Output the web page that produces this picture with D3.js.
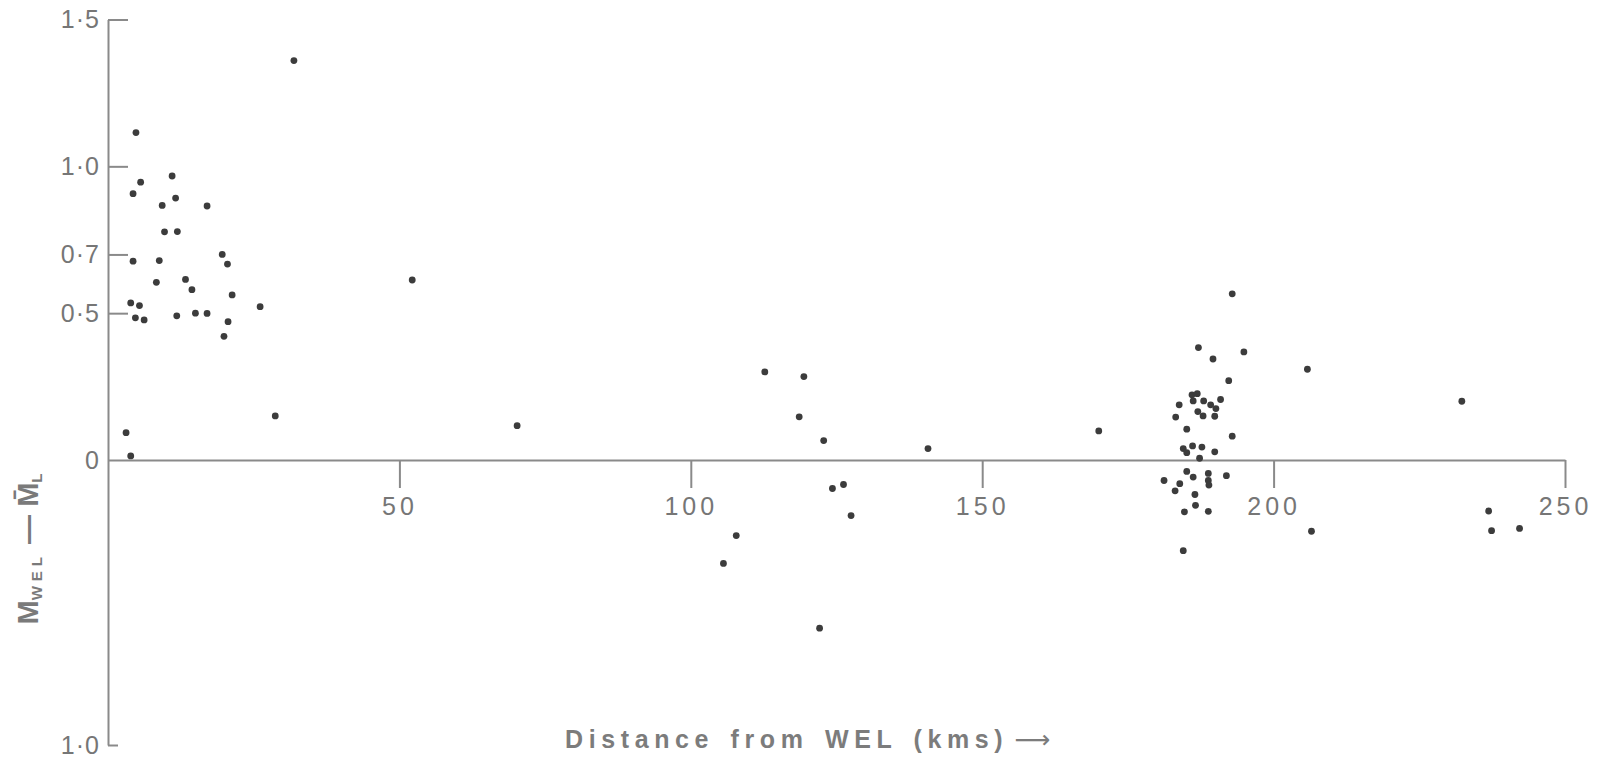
<!DOCTYPE html>
<html>
<head>
<meta charset="utf-8">
<script src="https://cdn.jsdelivr.net/npm/d3@7/dist/d3.min.js"></script>
<style>
	body { margin: 0; background: #fff; }
	svg { display: block; }
	.axis path, .axis line { stroke: #8a8a8a; stroke-width: 2; }
	.axis text { fill: #767676; font-family: "Liberation Sans", Arial, sans-serif; font-size: 25px; }
</style>
</head>
<body>
<svg id="chart" width="1614" height="769"></svg>
<script>
(function(d3) {
	'use strict';

	// distance from WEL (km) and M_WEL - mean M_L
	var distanceKm = [
		31.9, 4.8, 5.6, 4.3, 11.0, 11.6, 9.3, 17.0, 9.7, 11.9, 4.3, 8.8, 19.6, 20.5, 8.3, 13.3,
		14.4, 21.3, 3.9, 5.4, 4.7, 6.2, 11.8, 15.0, 17.0, 20.6, 26.1, 19.9, 52.2, 28.7, 3.1, 3.9,
		70.2, 112.7, 119.4, 118.6, 122.8, 140.7, 124.3, 126.2, 127.5, 107.8, 105.6, 122.1,
		192.9, 205.8, 232.3, 170.0, 206.5, 236.9, 237.4, 242.2,
		187.1, 189.6, 194.9, 192.3, 186.0, 186.9, 188.0, 189.2, 190.9, 183.8, 183.2, 187.0,
		187.9, 189.9, 190.1, 186.2, 185.1, 192.9, 184.5, 186.1, 187.7, 187.3, 189.9, 185.1,
		185.1, 186.2, 188.8, 188.8, 188.9, 191.9, 181.2, 183.9, 183.1, 186.5, 184.7, 186.6,
		188.8, 184.5
	];
	var deviation = [
		1.36, 1.115, 0.946, 0.907, 0.967, 0.892, 0.867, 0.865, 0.777, 0.778, 0.677, 0.679, 0.70, 0.667, 0.605, 0.615,
		0.58, 0.562, 0.535, 0.526, 0.484, 0.477, 0.491, 0.50, 0.499, 0.471, 0.522, 0.421, 0.613, 0.150, 0.093, 0.014,
		0.117, 0.30, 0.284, 0.147, 0.066, 0.039, -0.10, -0.086, -0.195, -0.265, -0.363, -0.59,
		0.566, 0.309, 0.200, 0.099, -0.250, -0.179, -0.248, -0.240,
		0.383, 0.344, 0.368, 0.270, 0.222, 0.226, 0.201, 0.188, 0.206, 0.188, 0.146, 0.165,
		0.150, 0.149, 0.175, 0.201, 0.105, 0.081, 0.039, 0.048, 0.044, 0.006, 0.028, 0.025,
		-0.040, -0.060, -0.047, -0.072, -0.088, -0.055, -0.072, -0.083, -0.108, -0.121, -0.182, -0.159,
		-0.180, -0.318
	];

	var xTicks = [50, 100, 150, 200, 250];
	var yTicks = [1.5, 1.0, 0.7, 0.5, 0, -1.0];
	var yTickLabels = ['1·5', '1·0', '0·7', '0·5', '0', '1·0'];

	var svg = d3.select('#chart');

	var x = d3.scaleLinear().domain([0, 250]).range([108, 1565]);
	// the printed axis is slightly squeezed below zero
	var y = d3.scaleLinear().domain([-1, 0, 1.5]).range([745, 460, 19.5]);

	/** y axis, ticks pointing inwards */
	var yAxis = d3.axisLeft(y).tickValues(yTicks).tickSizeInner(-20).tickSizeOuter(0).tickPadding(8)
			.tickFormat(function(d, i) {
				return yTickLabels[i];
			});
	var gy = svg.append('g').attr('class', 'axis').attr('transform', 'translate(' + x(0) + ',0)').call(yAxis);
	gy.selectAll('.tick line').attr('x2', function(d) {
		return d === -1 ? 10 : (d === 0 ? 0 : 20);
	});
	gy.selectAll('.tick text').attr('letter-spacing', 1);

	/** x axis on the zero line */
	var xAxis = d3.axisBottom(x).tickValues(xTicks).tickSizeInner(28).tickSizeOuter(0).tickPadding(9);
	var gx = svg.append('g').attr('class', 'axis').attr('transform', 'translate(0,' + y(0) + ')').call(xAxis);
	gx.selectAll('.tick text').attr('letter-spacing', 4);

	/** points */
	svg.append('g').selectAll('circle').data(distanceKm).enter().append('circle')
			.attr('cx', function(d) {
				return x(d);
			}).attr('cy', function(d, i) {
				return y(deviation[i]);
			}).attr('r', 3.4).attr('fill', '#3c3c3c');

	/** axis titles */
	var xTitle = svg.append('text').attr('x', 565).attr('y', 748)
			.attr('font-family', '"Liberation Sans", Arial, sans-serif').attr('font-size', 25).attr('font-weight', 'bold')
			.attr('letter-spacing', 5.6).attr('word-spacing', 4).attr('fill', '#7c7c7c');
	xTitle.append('tspan').text('Distance from WEL (kms)');
	xTitle.append('tspan').attr('font-family', '"DejaVu Sans", sans-serif').attr('font-weight', 'normal')
			.attr('letter-spacing', 0).attr('dx', 6).text('\u27F6');

	var yTitle = svg.append('text').attr('transform', 'translate(38,549) rotate(-90)').attr('text-anchor', 'middle')
			.attr('font-family', '"Liberation Sans", Arial, sans-serif').attr('font-size', 29).attr('font-weight', 'bold')
			.attr('fill', '#7a7a7a');
	yTitle.append('tspan').text('M');
	yTitle.append('tspan').attr('font-size', 15).attr('letter-spacing', 5).attr('dy', 4).text('WEL');
	yTitle.append('tspan').attr('dy', -4).text(' \u2014 M\u0304');
	yTitle.append('tspan').attr('font-size', 15).attr('dy', 4).text('L');
})(d3);
</script>
</body>
</html>
